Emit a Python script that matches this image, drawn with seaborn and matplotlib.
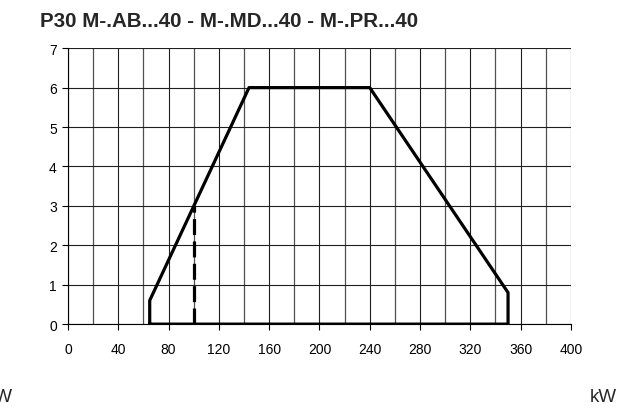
import numpy as np
import pandas as pd
import seaborn as sns
import matplotlib
matplotlib.use('Agg')
import matplotlib.pyplot as plt

title = 'P30 M-.AB...40 - M-.MD...40 - M-.PR...40'

# outline of the operating range (kW, value)
range_kw = [65, 65, 144, 240, 350, 350, 65]
range_val = [0, 0.6, 6, 6, 0.8, 0, 0]

# dashed marker line
mark_kw = [100, 100]
mark_val = [0, 3]

xticks = list(range(0, 401, 40))
yticks = list(range(0, 8))

sns.set_style('white')
plt.rcParams['font.family'] = ['Liberation Sans', 'DejaVu Sans']

fig = plt.figure(figsize=(6.26, 4.10), dpi=100)
ax = fig.add_axes([0.1086, 0.207, 0.8034, 0.673])

outline = pd.DataFrame({'kW': range_kw, 'val': range_val})
marker = pd.DataFrame({'kW': mark_kw, 'val': mark_val})

sns.lineplot(data=outline, x='kW', y='val', sort=False, estimator=None,
             color='black', linewidth=2.3, ax=ax, zorder=5)
sns.lineplot(data=marker, x='kW', y='val', sort=False, estimator=None,
             color='black', linewidth=2.3, linestyle=(0, (5, 2)), ax=ax, zorder=5)

ax.set_xlim(0, 400)
ax.set_ylim(0, 7)
ax.set_xticks(xticks)
ax.set_yticks(yticks)
ax.set_xticks(list(range(20, 400, 40)), minor=True)
ax.grid(True, which='major', color='#202020', linewidth=0.8)
ax.grid(True, which='minor', axis='x', color='#505050', linewidth=0.9)
ax.set_axisbelow(True)
ax.set_xlabel('')
ax.set_ylabel('')
ax.tick_params(axis='both', which='major', direction='out', length=4, width=0.8,
               colors='black', labelsize=10, pad=4, bottom=True, left=True)
ax.tick_params(axis='x', which='major', pad=9)
ax.tick_params(which='minor', length=0)
for side in ['top', 'right']:
    ax.spines[side].set_visible(False)
for side in ['left', 'bottom']:
    ax.spines[side].set_color('black')
    ax.spines[side].set_linewidth(0.8)

fig.text(0.064, 0.948, title, fontsize=14.8, fontweight='bold', ha='left', va='center')
fig.text(0.02, 0.03, 'kW', fontsize=13.5, ha='right', va='center')
fig.text(0.986, 0.03, 'kW', fontsize=13.5, ha='right', va='center')

fig.savefig('out.png', dpi=100)
